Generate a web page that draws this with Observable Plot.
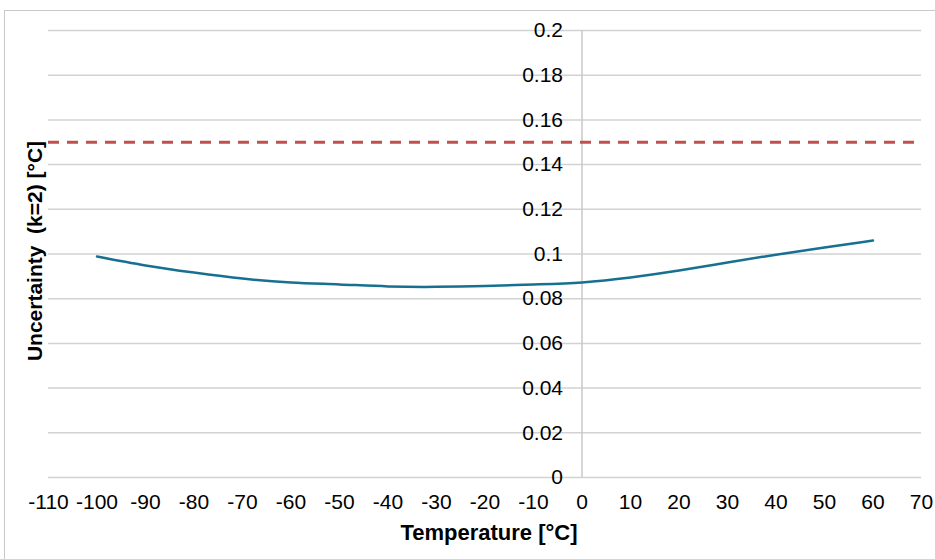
<!DOCTYPE html>
<html>
<head>
<meta charset="utf-8">
<script src="https://cdn.jsdelivr.net/npm/d3@7"></script>
<script src="https://cdn.jsdelivr.net/npm/@observablehq/plot@0.6"></script>
<style>
  html, body { margin: 0; padding: 0; background: #fff; }
  #wrap { position: relative; width: 935px; height: 559px; overflow: hidden; }
  #border { position: absolute; left: 4px; top: 10px; width: 940px; height: 560px; border: 1.5px solid #c9c9c9; box-sizing: border-box; }
  #chart { position: absolute; left: 0; top: 0; }
</style>
</head>
<body>
<div id="wrap"><div id="border"></div><div id="chart"></div></div>
<script>
// Tick values
const xTicks = [-110, -100, -90, -80, -70, -60, -50, -40, -30, -20, -10, 0, 10, 20, 30, 40, 50, 60, 70];
const yTicks = [0, 0.02, 0.04, 0.06, 0.08, 0.1, 0.12, 0.14, 0.16, 0.18, 0.2];
const yTickLabels = ["0", "0.02", "0.04", "0.06", "0.08", "0.1", "0.12", "0.14", "0.16", "0.18", "0.2"];

// Series: uncertainty (k=2) vs temperature
const temperature = [-100, -90, -80, -70, -60, -50, -40, -30, -20, -10, 0, 10, 20, 30, 40, 50, 60];
const uncertainty = [0.0989, 0.0949, 0.0917, 0.0890, 0.0873, 0.0864, 0.0855, 0.0853, 0.0857, 0.0864, 0.0873, 0.0895, 0.0926, 0.0962, 0.0997, 0.1029, 0.1060];

// Limit line
const limit = [0.15];

const xTitle = "Temperature [°C]";
const yTitle = "Uncertainty\u00a0 (k=2) [°C]";

const data = temperature.map((t, i) => ({t, u: uncertainty[i]}));
const yTickData = yTicks.map((v, i) => ({v, label: yTickLabels[i]}));

const font = "'Liberation Sans', Arial, Helvetica, sans-serif";

const chart = Plot.plot({
  width: 935,
  height: 559,
  marginLeft: 48,
  marginRight: 14,
  marginTop: 30,
  marginBottom: 82,
  x: {domain: [-110, 70], axis: null},
  y: {domain: [0, 0.2], axis: null},
  style: {fontFamily: font, background: "transparent", color: "#000"},
  marks: [
    Plot.ruleY(yTicks, {stroke: "#d2d2d2", strokeWidth: 1.5}),
    Plot.ruleX([0], {y1: 0, y2: 0.2, stroke: "#c8c8c8", strokeWidth: 1.5}),
    Plot.ruleY(limit, {stroke: "#c0504d", strokeWidth: 3, strokeDasharray: "11,8"}),
    Plot.line(data, {x: "t", y: "u", curve: "natural", stroke: "#17708f", strokeWidth: 2.5}),
    Plot.text(yTickData, {x: () => 0, y: "v", text: "label", textAnchor: "end", dx: -19, fontSize: 21, fill: "#000"}),
    Plot.text(xTicks, {x: d => d, frameAnchor: "bottom", dy: 31, text: d => String(d), fontSize: 21, fill: "#000"}),
    Plot.text([xTitle], {frameAnchor: "bottom", dx: 4, dy: 62, text: d => d, fontSize: 22, fontWeight: "bold", fill: "#000"}),
    Plot.text([yTitle], {frameAnchor: "left", textAnchor: "middle", dx: -13, dy: -3, rotate: -90, text: d => d, fontSize: 21, fontWeight: "bold", fill: "#000"})
  ]
});
document.getElementById("chart").appendChild(chart);
</script>
</body>
</html>
